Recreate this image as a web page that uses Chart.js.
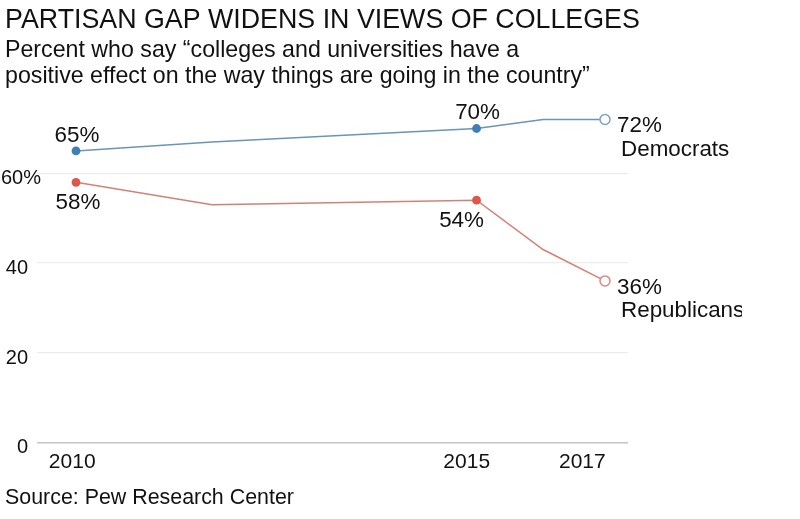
<!DOCTYPE html>
<html>
<head>
<meta charset="utf-8">
<script src="https://cdn.jsdelivr.net/npm/chart.js@4"></script>
<style>
  html, body { margin: 0; padding: 0; background: #fff; }
  canvas { display: block; }
</style>
</head>
<body>
<canvas id="collegesChart" width="742" height="519"></canvas>
<script>
// survey dates (fractional years) and values
const surveyYears = [2010, 2011.8, 2015.3, 2016.18, 2017];
const democrats = [65, 67, 70, 72, 72];
const republicans = [58, 53, 54, 43, 36];
const demLabels = ["65%", "", "70%", "", "72%"];
const repLabels = ["58%", "", "54%", "", "36%"];
const yTicks = [0, 20, 40, 60];
const yTickLabels = ["0", "20", "40", "60%"];
const xTickYears = [2009.95, 2015.17, 2016.7];
const xTickLabels = ["2010", "2015", "2017"];

const FONT = "'Liberation Sans', Arial, sans-serif";
const BLUE = "#3f7fb3";
const BLUE_LINE = "#6896b6";
const RED = "#df564a";
const RED_LINE = "#d48175";

const lastIdx = surveyYears.length - 1;
const markerRadius = (ctx) => (ctx.dataIndex === 0 || ctx.dataIndex === 2) ? 4.4 : (ctx.dataIndex === lastIdx ? 5 : 0);

const textPlugin = {
    id: "textPlugin",
    afterDraw(chart) {
        const ctx = chart.ctx;
        const x = chart.scales.x;
        const y = chart.scales.y;
        ctx.save();
        ctx.fillStyle = "#111";
        ctx.textBaseline = "alphabetic";

        // headings
        ctx.textAlign = "left";
        ctx.font = "26.8px " + FONT;
        ctx.fillText("PARTISAN GAP WIDENS IN VIEWS OF COLLEGES", 5, 28);
        ctx.font = "23.2px " + FONT;
        ctx.fillText("Percent who say \u201Ccolleges and universities have a", 5, 57);
        ctx.fillText("positive effect on the way things are going in the country\u201D", 5, 83);
        ctx.font = "21.4px " + FONT;
        ctx.fillText("Source: Pew Research Center", 5, 504);

        // y axis labels
        ctx.font = "20px " + FONT;
        ctx.textAlign = "right";
        yTicks.forEach((v, i) => {
            const label = yTickLabels[i];
            const right = label.endsWith("%") ? 41 : 28;
            ctx.fillText(label, right, y.getPixelForValue(v) + 11);
        });

        // x axis labels
        ctx.font = "21px " + FONT;
        ctx.textAlign = "center";
        xTickYears.forEach((v, i) => {
            ctx.fillText(xTickLabels[i], x.getPixelForValue(v), 468);
        });

        // value labels
        ctx.font = "22.4px " + FONT;
        surveyYears.forEach((yr, i) => {
            const px = x.getPixelForValue(yr);
            if (demLabels[i]) {
                const py = y.getPixelForValue(democrats[i]);
                if (i === lastIdx) {
                    ctx.textAlign = "left";
                    ctx.fillText(demLabels[i], px + 12, py + 12);
                } else {
                    ctx.textAlign = "center";
                    ctx.fillText(demLabels[i], px + 1, py - 9);
                }
            }
            if (repLabels[i]) {
                const py = y.getPixelForValue(republicans[i]);
                if (i === lastIdx) {
                    ctx.textAlign = "left";
                    ctx.fillText(repLabels[i], px + 12, py + 13);
                } else {
                    ctx.textAlign = "center";
                    ctx.fillText(repLabels[i], px + (i === 0 ? 2 : -15), py + 27);
                }
            }
        });

        // series names
        ctx.textAlign = "left";
        const ex = x.getPixelForValue(surveyYears[lastIdx]);
        ctx.fillText("Democrats", ex + 16, y.getPixelForValue(democrats[lastIdx]) + 36);
        ctx.fillText("Republicans", ex + 16, y.getPixelForValue(republicans[lastIdx]) + 36);
        ctx.restore();
    }
};

const data = {
    datasets: [
        {
            label: "Democrats",
            data: surveyYears.map((yr, i) => ({ x: yr, y: democrats[i] })),
            borderColor: BLUE_LINE,
            borderWidth: 1.5,
            pointRadius: markerRadius,
            pointBackgroundColor: (ctx) => ctx.dataIndex === lastIdx ? "#fff" : BLUE,
            pointBorderColor: (ctx) => ctx.dataIndex === lastIdx ? "#7fa2bd" : BLUE,
            pointBorderWidth: (ctx) => ctx.dataIndex === lastIdx ? 1.5 : 0,
        },
        {
            label: "Republicans",
            data: surveyYears.map((yr, i) => ({ x: yr, y: republicans[i] })),
            borderColor: RED_LINE,
            borderWidth: 1.5,
            pointRadius: markerRadius,
            pointBackgroundColor: (ctx) => ctx.dataIndex === lastIdx ? "#fff" : RED,
            pointBorderColor: (ctx) => ctx.dataIndex === lastIdx ? "#d88a80" : RED,
            pointBorderWidth: (ctx) => ctx.dataIndex === lastIdx ? 1.5 : 0,
        },
    ],
};

const config = {
    type: "line",
    data: data,
    options: {
        responsive: false,
        animation: false,
        layout: {
            padding: { left: 37, right: 114, top: 101.6, bottom: 76.7 }
        },
        plugins: {
            legend: { display: false },
            tooltip: { enabled: false },
        },
        scales: {
            x: {
                type: "linear",
                display: false,
                min: 2009.484,
                max: 2017.304,
            },
            y: {
                min: 0,
                max: 76,
                afterBuildTicks: (scale) => { scale.ticks = yTicks.map(v => ({ value: v })); },
                ticks: { display: false },
                border: { display: false },
                grid: {
                    drawTicks: false,
                    color: (ctx) => ctx.tick && ctx.tick.value === 0 ? "#c4c4c4" : "#ececec",
                    lineWidth: (ctx) => ctx.tick && ctx.tick.value === 0 ? 1.5 : 1.2,
                },
            },
        },
    },
    plugins: [textPlugin],
};

new Chart(document.getElementById("collegesChart"), config);
</script>
</body>
</html>
